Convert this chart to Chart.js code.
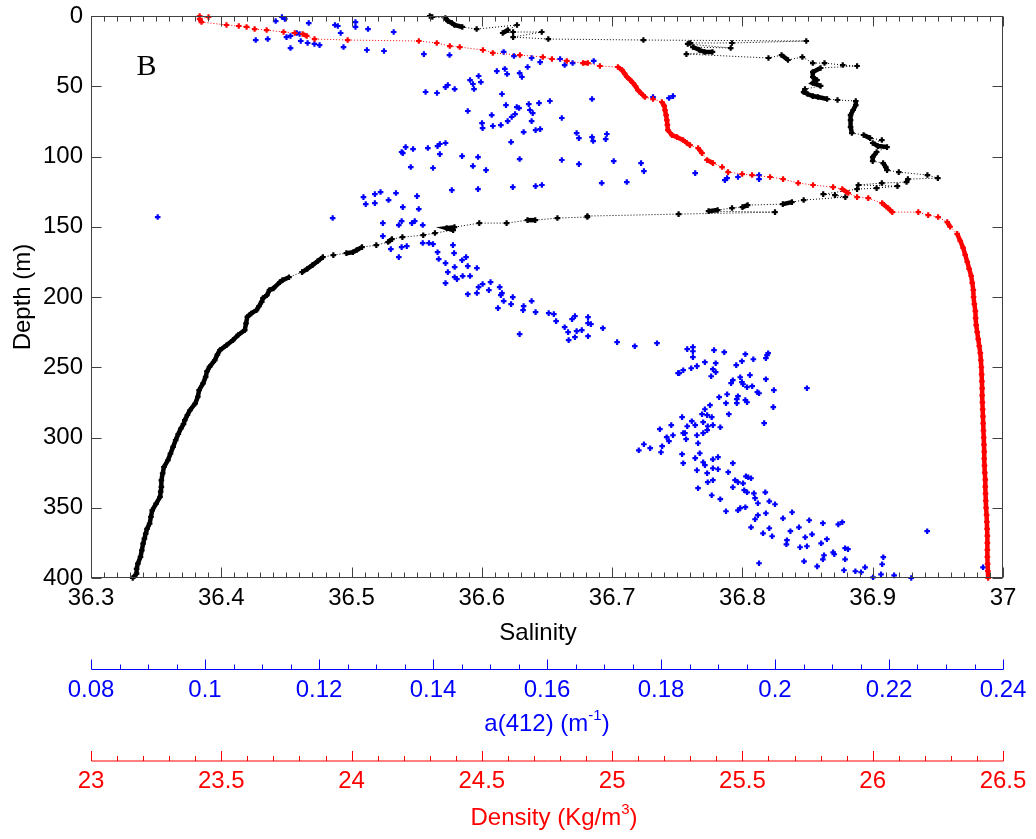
<!DOCTYPE html>
<html>
<head>
<meta charset="utf-8">
<title>Profils salinité / a(412) / densité</title>
<script src="https://cdn.jsdelivr.net/npm/chart.js@4.4.0/dist/chart.umd.min.js"></script>
<style>
  html, body { margin: 0; padding: 0; background: #fff; }
  #wrap { width: 1036px; height: 839px; }
</style>
</head>
<body>
<div id="wrap"><canvas id="profileChart" width="1036" height="839"></canvas></div>
<script>
// Profil de salinité : [salinité, profondeur (m)]
const salinityProfile = [
  [36.560,0],[36.562,0.7],[36.572,1.4],[36.574,3.6],[36.577,5.0],[36.579,6.4],[36.585,7.8],[36.596,9.3],
  [36.627,6.4],[36.620,10.0],[36.616,12.1],[36.624,11.4],[36.646,11.4],[36.624,15.0],[36.651,16.4],
  [36.724,17.1],[36.849,17.8],[36.792,19.2],[36.760,19.2],[36.758,19.9],[36.791,22.8],[36.762,22.1],
  [36.767,24.2],[36.771,25.6],[36.777,25.6],[36.757,27.1],[36.820,29.9],[36.830,27.8],[36.835,31.3],
  [36.846,29.2],[36.854,33.5],[36.863,33.5],[36.877,34.9],[36.888,35.6],[36.860,37.0],[36.854,39.9],
  [36.854,43.4],[36.857,45.6],[36.854,47.7],[36.860,49.8],[36.848,52.0],[36.847,54.1],[36.850,55.5],
  [36.854,57.0],[36.858,57.7],[36.865,59.1],[36.873,59.8],[36.887,60.5],[36.887,63.4],[36.885,66.9],
  [36.883,70.5],[36.883,74.1],[36.883,79.0],[36.884,83.3],[36.893,84.7],[36.898,86.9],[36.907,88.3],
  [36.900,90.4],[36.904,92.6],[36.911,93.3],[36.903,96.8],[36.900,100.4],[36.900,103.3],[36.908,104.7],
  [36.910,107.5],[36.911,109.7],[36.920,111.1],[36.942,113.2],[36.950,115.4],[36.927,116.1],[36.926,118.2],
  [36.907,118.9],[36.889,120.3],[36.919,121.1],[36.903,122.5],[36.888,123.2],[36.862,126.8],[36.871,127.5],
  [36.879,128.9],[36.847,131.0],[36.838,132.5],[36.831,133.9],[36.804,134.6],[36.800,136.0],[36.792,136.7],
  [36.781,138.1],[36.774,138.9],[36.825,139.6],[36.751,141.0],[36.681,142.4],[36.681,143.1],[36.658,143.8],
  [36.641,145.3],[36.635,145.3],[36.619,147.4],[36.598,147.4],[36.579,150.3],[36.573,151.0],[36.578,152.4],
  [36.564,154.5],[36.555,156.0],[36.539,157.4],[36.531,158.8],[36.528,160.9],[36.519,163.1],[36.508,164.5],
  [36.504,166.6],[36.501,168.1],[36.496,168.8],[36.486,170.2],[36.478,171.6],[36.474,174.5],[36.470,177.3],
  [36.466,180.0],[36.462,182.3],[36.452,185.9],[36.447,188.0],[36.445,189.4],[36.440,193.9],[36.437,195.1],
  [36.435,198.7],[36.432,200.8],[36.431,203.4],[36.429,206.5],[36.427,209.4],[36.423,211.7],[36.420,214.1],
  [36.419,218.8],[36.418,223.6],[36.413,227.0],[36.409,230.7],[36.404,234.3],[36.399,237.8],[36.397,241.0],
  [36.395,245.0],[36.391,249.7],[36.389,253.0],[36.388,256.9],[36.386,261.5],[36.383,266.3],[36.382,271.0],
  [36.380,275.8],[36.376,280.6],[36.374,284.0],[36.372,287.7],[36.371,290.5],[36.369,293.6],[36.367,297.5],
  [36.365,301.9],[36.363,306.7],[36.361,311.5],[36.359,316.2],[36.356,321.0],[36.355,325.6],[36.354,330.5],
  [36.354,335.2],[36.3535,338.5],[36.353,342.3],[36.350,347.0],[36.347,351.8],[36.346,356.5],[36.345,361.3],
  [36.343,365.0],[36.342,368.4],[36.341,372.0],[36.340,375.5],[36.339,380.3],[36.338,385.0],[36.336,389.7],
  [36.335,393.5],[36.335,396.9],[36.332,400]
];

// Profil de densité : [densité (Kg/m3), profondeur (m)]
const densityProfile = [
  [23.417,0],[23.451,0.7],[23.417,2.1],[23.424,4.3],[23.520,6.4],[23.567,7.1],[23.597,7.8],[23.628,9.3],
  [23.674,10.0],[23.739,11.4],[23.782,12.1],[23.812,12.8],[23.828,14.2],[23.858,16.4],[23.985,17.1],
  [24.258,17.8],[24.327,19.2],[24.377,21.4],[24.415,22.1],[24.504,24.2],[24.542,26.3],[24.646,27.8],
  [24.734,29.2],[24.769,30.6],[24.826,32.0],[24.888,33.5],[24.907,33.5],[24.953,35.6],[25.022,36.3],
  [25.038,38.5],[25.048,41.0],[25.057,43.4],[25.069,45.5],[25.080,47.7],[25.090,50.0],[25.099,52.7],
  [25.111,55.0],[25.126,57.7],[25.157,59.1],[25.191,61.2],
  [25.200,64.0],[25.203,67.0],[25.207,70.5],[25.210,74.1],[25.212,77.5],[25.214,81.2],[25.230,84.8],
  [25.249,86.2],[25.272,88.3],[25.287,90.4],[25.299,91.9],[25.330,94.0],[25.345,97.6],[25.364,102.5],
  [25.387,104.7],[25.422,107.5],[25.445,111.1],[25.499,112.5],[25.537,113.2],[25.606,114.6],[25.656,116.1],
  [25.714,118.9],[25.771,120.3],[25.848,121.8],[25.883,123.2],[25.906,126.0],[25.940,128.9],[25.983,129.6],
  [26.036,133.2],[26.059,136.7],[26.075,139.6],[26.175,139.6],[26.213,141.7],[26.251,143.1],[26.286,146.7],
  [26.297,150.0],[26.324,155.0],[26.336,160.0],[26.347,165.0],[26.355,170.0],[26.363,175.0],[26.370,180.0],
  [26.378,185.0],[26.382,190.0],[26.386,195.0],[26.387,200.0],[26.390,205.0],[26.394,210.0],[26.395,215.0],
  [26.397,220.0],[26.401,225.0],[26.405,230.0],[26.409,235.0],[26.413,240.0],[26.415,245.0],[26.417,250.0],
  [26.418,255.0],[26.419,260.0],[26.420,265.0],[26.420,270.0],[26.421,275.0],[26.422,280.0],[26.423,285.0],
  [26.424,290.0],[26.425,295.0],[26.426,300.0],[26.427,305.0],[26.428,310.0],[26.428,315.0],[26.429,320.0],
  [26.430,325.0],[26.432,330.0],[26.432,335.0],[26.433,340.0],[26.434,345.0],[26.435,350.0],[26.437,355.0],
  [26.438,360.0],[26.439,365.0],[26.440,370.0],[26.440,375.0],[26.440,380.0],[26.440,385.0],[26.441,390.0],
  [26.442,395.0],[26.443,400.0]
];

// Absorption a(412) : [a(412) (m-1), profondeur (m)]
const absorption412 = [
  [0.1124,3.6],[0.1135,0.7],[0.1140,2.1],[0.1089,17.1],[0.1110,16.4],[0.1143,15.0],[0.1150,14.2],[0.1161,12.1],
  [0.1166,12.8],[0.1150,22.8],[0.1168,17.8],[0.1180,19.2],[0.1182,5.0],[0.1192,19.9],[0.1201,20.7],[0.1228,6.4],
  [0.1233,7.1],[0.1238,12.1],[0.1243,22.1],[0.1264,4.3],[0.1264,7.8],[0.1286,9.3],[0.1284,24.2],[0.1314,24.9],
  [0.1331,11.4],[0.0917,143.1],[0.1224,143.8],
  [0.1384,27.1],[0.1429,27.8],[0.1524,25.6],[0.1542,28.5],[0.1573,29.9],[0.1588,32.8],[0.1623,30.6],[0.1631,34.9],
  [0.1645,33.5],[0.1682,32.0],[0.1512,39.2],[0.1526,37.7],[0.1530,41.3],[0.1552,40.6],[0.1556,43.4],[0.1566,36.3],
  [0.1480,42.7],[0.1465,45.6],[0.1470,48.4],[0.1472,52.0],[0.1484,47.0],[0.1422,50.6],[0.1426,49.1],[0.1438,52.0],
  [0.1387,54.1],[0.1407,54.8],[0.1521,55.5],[0.1528,63.4],[0.1547,64.8],[0.1551,65.5],[0.1568,62.7],[0.1586,62.0],
  [0.1605,60.5],[0.1679,59.1],[0.1786,57.7],[0.1814,58.4],[0.1821,57.0],[0.1461,67.6],[0.1503,70.5],[0.1486,76.2],
  [0.1487,79.8],[0.1505,78.3],[0.1519,77.6],[0.1531,74.8],[0.1538,71.9],[0.1544,69.8],[0.1570,66.9],[0.1575,69.1],
  [0.1573,74.8],[0.1626,72.6],[0.1559,82.6],[0.1580,81.2],[0.1588,80.5],[0.1652,83.3],[0.1656,86.9],[0.1679,86.2],
  [0.1681,89.0],[0.1705,84.0],[0.1703,87.6],[0.1537,89.7],[0.1345,96.8],[0.1347,97.6],[0.1352,93.3],[0.1365,94.7],
  [0.1391,94.0],[0.1408,92.6],[0.1412,91.1],[0.1422,90.4],[0.1412,98.3],[0.1451,99.7],[0.1479,100.4],[0.1552,101.8],
  [0.1470,106.8],[0.1493,109.7],[0.1361,107.5],[0.1400,108.2],[0.1626,102.5],[0.1656,105.4],[0.1717,103.3],
  [0.1765,104.7],[0.1770,110.4],[0.1860,111.8],[0.1912,116.8],[0.1916,115.4],[0.1935,114.6],[0.1972,113.2],
  [0.1972,116.1],[0.1479,123.2],[0.1540,121.8],[0.1580,121.1],[0.1591,120.3],[0.1696,118.9],[0.1740,118.2],
  [0.1433,123.9],[0.1278,128.9],[0.1282,133.9],[0.1298,126.8],[0.1298,133.2],[0.1308,125.3],[0.1322,131.0],
  [0.1335,126.0],[0.1372,128.2],[0.1347,136.0],[0.1375,137.4],[0.1345,146.0],[0.1340,148.8],[0.1363,147.4],
  [0.1368,146.0],[0.1382,148.8],[0.1312,147.4],[0.1382,161.6],[0.1393,161.6],[0.1400,162.4],[0.1312,156.7],
  [0.1326,165.9],[0.1354,163.8],[0.1345,164.5],[0.1340,171.6],[0.1435,163.1],[0.1437,168.8],[0.1408,168.1],
  [0.1410,173.0],[0.1422,175.9],[0.1426,182.3],[0.1438,178.7],[0.1438,185.9],[0.1442,187.3],[0.1451,173.8],
  [0.1461,178.0],[0.1458,171.6],[0.1452,185.1],[0.1477,179.4],[0.1465,185.1],[0.1422,190.1],[0.1480,193.0],
  [0.1487,190.8],[0.1501,189.4],[0.1461,198.0],[0.1477,197.2],[0.1498,195.1],[0.1517,193.0],[0.1521,197.2],
  [0.1519,198.7],[0.1540,200.1],[0.1573,202.9],
  [0.1514,207.9],[0.1524,202.9],[0.1537,205.1],[0.1559,206.5],[0.1558,209.4],[0.1580,210.8],[0.1552,226.4],
  [0.1603,211.5],[0.1612,212.2],[0.1616,217.2],[0.1631,221.5],[0.1637,225.0],[0.1638,230.7],[0.1644,215.8],
  [0.1649,213.6],[0.1649,228.6],[0.1652,224.3],[0.1661,223.6],[0.1672,214.3],[0.1672,218.6],[0.1677,219.3],
  [0.1672,227.9],[0.1698,222.2],[0.1723,232.1],[0.1754,235.0],[0.1793,232.9],[0.1846,237.1],[0.1856,235.7],
  [0.1856,238.6],[0.1856,242.8],[0.1893,237.8],[0.1911,239.3],[0.1948,240.7],[0.1986,241.4],[0.1988,240.0],
  [0.1984,243.5],[0.1942,245.7],[0.1962,244.3],[0.1832,254.2],[0.1839,252.1],[0.1853,250.7],[0.1863,249.2],
  [0.1877,246.4],[0.1896,247.1],[0.1891,251.4],[0.1896,253.5],[0.1888,256.4],[0.1932,248.5],[0.1956,255.6],
  [0.1939,257.1],[0.1923,261.3],[0.1926,259.2],[0.1942,260.6],[0.1944,262.1],[0.1951,264.2],[0.1960,263.5],
  [0.1984,258.5],[0.1969,267.7],[0.1972,268.5],[0.1998,266.3],[0.2056,264.9],[0.1902,271.3],[0.1916,269.2],
  [0.1935,270.6],[0.1933,272.7],[0.1933,275.6],[0.1948,273.4],[0.1951,274.9],[0.1914,275.6],[0.1886,277.0],
  [0.1997,278.4],[0.1919,283.4],[0.1877,279.9],[0.1881,284.1],[0.1889,285.5],[0.1872,283.4],[0.1981,289.8],
  [0.1874,289.1],[0.1882,292.0],[0.1874,296.9],[0.1860,291.2],[0.1854,288.4],[0.1846,292.0],[0.1842,296.9],
  [0.1844,301.2],[0.1837,285.5],[0.1837,311.9],[0.1839,318.3],[0.1863,298.4],[0.1865,304.1],[0.1881,294.8],
  [0.1891,291.2],[0.1904,292.7],[0.1868,311.2],[0.1860,314.7],[0.1874,317.6],[0.1863,323.3],[0.1877,319.7],
  [0.1881,325.4],[0.1891,315.5],[0.1900,314.0],[0.1891,321.9],[0.1900,322.6],[0.1865,336.1],[0.1882,331.8],
  [0.1891,330.4],[0.1889,341.1],[0.1904,343.9],[0.1914,352.5],[0.1918,324.7],[0.1926,318.3],[0.1930,330.4],
  [0.1935,331.8],[0.1926,335.4],[0.1935,351.8],[0.1939,350.3],[0.1946,337.5],[0.1949,327.6],[0.1953,328.3],
  [0.1958,329.0],[0.1944,332.6],[0.1951,339.0],[0.1963,339.7],[0.1965,343.2],[0.1970,346.8],[0.1948,349.6],
  [0.1958,363.9],[0.1965,358.2],[0.1970,355.3],[0.1979,368.2],[0.1984,353.9],[0.1990,364.6],[0.1995,370.3],
  [0.1990,345.4],[0.2000,347.5],[0.1983,339.0],[0.1972,389.5],[0.2014,357.5],[0.2027,366.7],[0.2030,353.2],
  [0.2021,373.1],[0.2020,376.0],[0.2044,378.1],[0.2042,363.9],[0.2053,371.0],[0.2056,377.4],[0.2060,358.9],
  [0.2065,368.9],[0.2051,388.1],[0.2084,361.0],[0.2081,375.3],[0.2091,372.4],[0.2074,391.7],[0.2086,383.8],
  [0.2084,386.7],[0.2102,381.7],[0.2104,383.1],[0.2111,361.8],[0.2118,360.3],[0.2123,378.8],[0.2128,379.5],
  [0.2123,386.7],[0.2121,394.5],[0.2141,395.2],[0.2151,395.9],[0.2158,392.4],[0.2172,399.5],[0.2186,397.4],
  [0.2188,390.2],[0.2190,385.2],[0.2209,398.1],[0.2239,400],[0.2267,366.7],[0.2365,392.4],[0.1761,309.1],
  [0.1770,304.8],[0.1781,307.6],[0.1798,294.1],[0.1802,306.2],[0.1800,310.5],[0.1810,299.8],[0.1814,302.6],
  [0.1818,291.2],[0.1821,298.4],[0.1839,296.9],[0.1830,254.2]
];

// Bornes et graduations des axes
const salinityAxis = { min: 36.3, max: 37, step: 0.1, minor: 0.01 };
const absorptionAxis = { min: 0.08, max: 0.24, step: 0.02, minor: 0.005 };
const densityAxis = { min: 23, max: 26.5, step: 0.5, minor: 0.1 };
const depthAxis = { min: 0, max: 400, step: 50 };

const FONT = '"Liberation Sans", Arial, sans-serif';
const fmt = v => String(Math.round(v * 1000) / 1000);
const toPoints = arr => arr.map(p => ({ x: p[0], y: p[1] }));

function tickValues(min, max, step) {
    const n = Math.round((max - min) / step);
    const out = [];
    for (let i = 0; i <= n; i++) out.push(min + i * step);
    return out;
}

function isMajor(v, axis) {
    const k = (v - axis.min) / axis.step;
    return Math.abs(k - Math.round(k)) < 1e-6;
}

// Graduations horizontales (dir = -1 : vers le haut, +1 : vers le bas)
function hTicks(ctx, scale, axis, y, dir, color) {
    ctx.strokeStyle = color;
    ctx.lineWidth = 1;
    ctx.beginPath();
    tickValues(axis.min, axis.max, axis.minor).forEach(v => {
        const x = Math.round(scale.getPixelForValue(v)) + 0.5;
        const len = isMajor(v, axis) ? 10 : 5;
        ctx.moveTo(x, y);
        ctx.lineTo(x, y + dir * len);
    });
    ctx.stroke();
}

// Titre avec exposant éventuel
function drawTitle(ctx, parts, cx, baseline, color) {
    let total = 0;
    parts.forEach(p => {
        ctx.font = (p.sup ? '15px ' : '24px ') + FONT;
        p.w = ctx.measureText(p.text).width;
        total += p.w;
    });
    let x = cx - total / 2;
    ctx.fillStyle = color;
    ctx.textAlign = 'left';
    ctx.textBaseline = 'alphabetic';
    parts.forEach(p => {
        ctx.font = (p.sup ? '15px ' : '24px ') + FONT;
        ctx.fillText(p.text, x, baseline - (p.sup ? 11.5 : 0));
        x += p.w;
    });
}

const matlabAxes = {
    id: 'matlabAxes',
    afterDraw(chart) {
        const { ctx, chartArea: a, scales } = chart;
        ctx.save();

        // cadre
        const L = Math.round(a.left) + 0.5, R = Math.round(a.right) - 0.5;
        const T = Math.round(a.top) + 0.5, B = Math.round(a.bottom) - 0.5;
        ctx.strokeStyle = '#404040';
        ctx.lineWidth = 1;
        ctx.strokeRect(L, T, R - L, B - T);

        // graduations salinité (bas et haut, vers l'intérieur)
        hTicks(ctx, scales.x, salinityAxis, B, -1, '#404040');
        hTicks(ctx, scales.x, salinityAxis, T, 1, '#404040');

        // graduations profondeur (gauche et droite)
        ctx.beginPath();
        tickValues(depthAxis.min, depthAxis.max, depthAxis.step).forEach(v => {
            const y = Math.round(scales.y.getPixelForValue(v)) + 0.5;
            ctx.moveTo(L, y); ctx.lineTo(L + 10, y);
            ctx.moveTo(R, y); ctx.lineTo(R - 10, y);
        });
        ctx.stroke();

        // axe a(412)
        const yA = Math.round(scales.xA.top + 23) + 0.5;
        ctx.strokeStyle = '#0000ff';
        ctx.beginPath(); ctx.moveTo(L, yA); ctx.lineTo(R + 1, yA); ctx.stroke();
        hTicks(ctx, scales.xA, absorptionAxis, yA, -1, '#0000ff');

        // axe densité
        const yD = Math.round(scales.xD.top + 21);
        ctx.strokeStyle = '#ff0000';
        ctx.beginPath(); ctx.moveTo(L, yD); ctx.lineTo(R + 1, yD); ctx.stroke();
        hTicks(ctx, scales.xD, densityAxis, yD, -1, '#ff0000');

        // titres
        const cx = (a.left + a.right) / 2;
        drawTitle(ctx, [{ text: 'Salinity' }], cx - 9, 640, '#000');
        drawTitle(ctx, [{ text: 'a(412) (m' }, { text: '-1', sup: true }, { text: ')' }], cx, 731, '#0000ff');
        drawTitle(ctx, [{ text: 'Density (Kg/m' }, { text: '3', sup: true }, { text: ')' }], cx + 7, 825, '#ff0000');

        // titre vertical
        ctx.save();
        ctx.translate(30, (a.top + a.bottom) / 2);
        ctx.rotate(-Math.PI / 2);
        ctx.font = '24px ' + FONT;
        ctx.fillStyle = '#000';
        ctx.textAlign = 'center';
        ctx.textBaseline = 'alphabetic';
        ctx.fillText('Depth (m)', 0, 0);
        ctx.restore();

        // étiquette du panneau
        ctx.font = '30px "Liberation Serif", "Times New Roman", serif';
        ctx.fillStyle = '#000';
        ctx.textAlign = 'left';
        ctx.textBaseline = 'alphabetic';
        ctx.fillText('B', scales.x.getPixelForValue(36.335), scales.y.getPixelForValue(42));

        ctx.restore();
    }
};

// l'espace entre axe et étiquettes passe par tickLength (pas de marge latérale ajoutée)
function xScale(axis, color, weight, height, gap) {
    return {
        type: 'linear',
        position: 'bottom',
        weight: weight,
        min: axis.min,
        max: axis.max,
        ticks: {
            stepSize: axis.step,
            color: color,
            font: { family: FONT, size: 24 },
            padding: 0,
            maxRotation: 0,
            autoSkip: false,
            callback: v => fmt(v)
        },
        grid: { display: false, drawTicks: true, tickLength: gap },
        border: { display: false },
        afterFit: s => { s.height = height; }
    };
}

// segments courts (points serrés) : trait plein épais, sinon pointillé fin
function segmentStyle(limit) {
    const short = c => Math.hypot(c.p1.x - c.p0.x, c.p1.y - c.p0.y) < limit;
    return {
        borderWidth: c => (short(c) ? 4.5 : 1),
        borderDash: c => (short(c) ? [] : [1, 2])
    };
}

const markerStyle = { pointStyle: 'cross', pointRadius: 2.8, pointBorderWidth: 2.2, clip: false };

new Chart(document.getElementById('profileChart'), {
    type: 'scatter',
    data: {
        datasets: [
            Object.assign({
                label: 'Density',
                data: toPoints(densityProfile),
                xAxisID: 'xD', yAxisID: 'y',
                showLine: true,
                borderColor: '#ff0000', borderWidth: 1, borderDash: [1, 2],
                segment: segmentStyle(7.8),
                pointBorderColor: '#ff0000', pointBackgroundColor: '#ff0000',
                order: 1
            }, markerStyle),
            Object.assign({
                label: 'Salinity',
                data: toPoints(salinityProfile),
                xAxisID: 'x', yAxisID: 'y',
                showLine: true,
                borderColor: '#000000', borderWidth: 1, borderDash: [1, 2],
                segment: segmentStyle(9.5),
                pointBorderColor: '#000000', pointBackgroundColor: '#000000',
                order: 2
            }, markerStyle),
            Object.assign({
                label: 'a(412)',
                data: toPoints(absorption412),
                xAxisID: 'xA', yAxisID: 'y',
                showLine: false,
                pointBorderColor: '#0000ff', pointBackgroundColor: '#0000ff',
                order: 3
            }, markerStyle)
        ]
    },
    options: {
        responsive: false,
        animation: false,
        events: [],
        layout: { padding: { left: 0, right: 33, top: 16, bottom: 0 } },
        plugins: { legend: { display: false }, tooltip: { enabled: false } },
        scales: {
            x: xScale(salinityAxis, '#000000', 0, 68, 6),
            xA: xScale(absorptionAxis, '#0000ff', 1, 94, 30),
            xD: xScale(densityAxis, '#ff0000', 2, 99, 27),
            y: {
                type: 'linear',
                position: 'left',
                reverse: true,
                min: depthAxis.min,
                max: depthAxis.max,
                ticks: {
                    stepSize: depthAxis.step,
                    color: '#000000',
                    font: { family: FONT, size: 24 },
                    padding: 0,
                    callback: v => fmt(v)
                },
                grid: { display: false, drawTicks: true, tickLength: 8 },
                border: { display: false },
                afterFit: s => { s.width = 91; }
            }
        }
    },
    plugins: [matlabAxes]
});
</script>
</body>
</html>
